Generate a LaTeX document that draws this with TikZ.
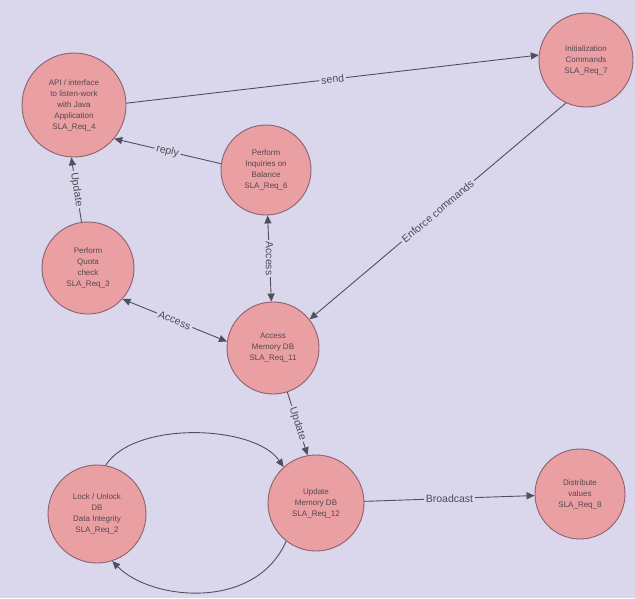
\documentclass[tikz,border=0pt]{standalone}
\usepackage{fontspec}
\setmainfont{Liberation Sans}
\usetikzlibrary{arrows.meta}
\definecolor{bg}{RGB}{218,215,236}
\definecolor{nodefill}{RGB}{234,160,162}
\definecolor{nodedraw}{RGB}{140,96,112}
\definecolor{nodetext}{RGB}{85,70,80}
\definecolor{linecol}{RGB}{80,80,92}
\definecolor{labeltext}{RGB}{75,75,85}
\begin{document}
\begin{tikzpicture}[x=1pt,y=-1pt,
  req/.style={circle, draw=nodedraw, line width=0.9pt, fill=nodefill, align=center,
    font=\fontsize{8}{11}\selectfont, text=nodetext, inner sep=0pt},
  link/.style={draw=linecol, line width=0.9pt},
  tip/.style={-{Triangle[length=8pt,width=7pt]}},
  twotips/.style={{Triangle[length=8pt,width=7pt]}-{Triangle[length=8pt,width=7pt]}},
  lbl/.style={fill=bg, inner sep=2pt, font=\fontsize{10.5}{12}\selectfont, text=labeltext}]
\fill[bg] (0,0) rectangle (635,598);
\useasboundingbox (0,0) rectangle (635,598);

% requirement nodes
\node[req, minimum size=104pt] (api) at (74,105) {API / interface\\to listen-work\\with Java\\Application\\SLA\_Req\_4};
\node[req, minimum size=90pt] (inq) at (266,170) {Perform\\Inquiries on\\Balance\\SLA\_Req\_6};
\node[req, minimum size=94pt] (init) at (586,60) {Initialization\\Commands\\SLA\_Req\_7};
\node[req, minimum size=92pt] (quota) at (88,268) {Perform\\Quota\\check\\SLA\_Req\_3};
\node[req, minimum size=92pt] (acc) at (273,348) {Access\\Memory DB\\SLA\_Req\_11};
\node[req, minimum size=98pt] (lock) at (97,514) {Lock / Unlock\\DB\\Data Integrity\\SLA\_Req\_2};
\node[req, minimum size=96pt] (upd) at (316,503) {Update\\Memory DB\\SLA\_Req\_12};
\node[req, minimum size=90pt] (dist) at (580,494) {Distribute\\values\\SLA\_Req\_8};

% connectors
\draw[link,tip] (api.2) -- node[lbl, sloped] {send} (init.174);
\draw[link,tip] (inq.172) -- node[lbl, sloped] {reply} (api.-40);
\draw[link,tip] (quota.98) -- node[lbl, sloped] {Update} (api.-93);
\draw[link,twotips] (inq.-88) -- node[lbl, rotate=-90] {Access} (acc.92);
\draw[link,twotips] (quota.-42) -- node[lbl, sloped] {Access} (acc.172);
\draw[link,tip] (init.-115) -- node[lbl, sloped] {Enforce commands} (acc.38);
\draw[link,tip] (acc.-72) -- node[lbl, sloped] {Update} (upd.100);
\draw[link,tip] (lock.80) .. controls (135,420) and (255,425) .. (upd.132);
\draw[link,tip] (upd.-128) .. controls (255,612) and (150,600) .. (lock.-72);
\draw[link,tip] (upd) -- node[lbl] {Broadcast} (dist);
\end{tikzpicture}
\end{document}
